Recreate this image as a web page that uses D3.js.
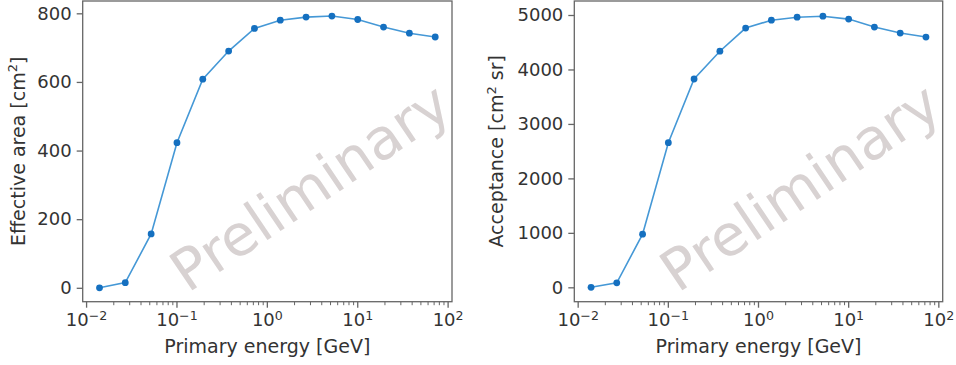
<!DOCTYPE html>
<html>
<head>
<meta charset="utf-8">
<script src="https://cdn.jsdelivr.net/npm/d3@7"></script>
<style>
  html, body { margin: 0; padding: 0; background: #fff; }
  svg { display: block; font-family: "DejaVu Sans", sans-serif; }
</style>
</head>
<body>
<svg id="chart" width="956" height="365"></svg>
<script>
// primary energy bins [GeV]
const energies = [0.0139, 0.0268, 0.0518, 0.1, 0.193, 0.373, 0.72, 1.39, 2.68, 5.18, 10, 19.3, 37.3, 72.0];
// effective area [cm^2]
const effectiveArea = [0, 15, 157, 423, 608, 690, 756, 780, 789, 792, 782, 760, 742, 731];
// acceptance [cm^2 sr]
const acceptance = [0, 82, 975, 2655, 3825, 4335, 4760, 4905, 4960, 4978, 4925, 4778, 4668, 4595];
const xTickExponents = [-2, -1, 0, 1, 2];
const areaTicks = [0, 200, 400, 600, 800];
const acceptanceTicks = [0, 1000, 2000, 3000, 4000, 5000];

const svg = d3.select('#chart');
const textColor = '#333';
const frameColor = '#666';
const lineColor = '#4598d6';
const markerColor = '#1570c0';
const tickFont = 18;
const labelFont = 19;

function drawPanel(opts) {
  const { left, right, top, bottom, yDomain, yTicks, values, label, watermark } = opts;

  const x = d3.scaleLog()
    .domain([Math.pow(10, -2.043), Math.pow(10, 2.043)])
    .range([left, right]);
  const y = d3.scaleLinear().domain(yDomain).range([bottom, top]);

  const g = svg.append('g');

  // watermark
  g.append('text')
    .attr('x', watermark[0])
    .attr('y', watermark[1])
    .attr('text-anchor', 'middle')
    .attr('dominant-baseline', 'central')
    .attr('transform', `rotate(-34, ${watermark[0]}, ${watermark[1]})`)
    .attr('font-size', 57)
    .attr('fill', '#d8d2d2')
    .text('Preliminary');

  // y axis
  const yAxis = g.append('g')
    .attr('transform', `translate(${left},0)`)
    .call(d3.axisLeft(y).tickValues(yTicks).tickSize(6).tickPadding(5).tickFormat(d3.format('d')));
  yAxis.select('.domain').remove();
  yAxis.selectAll('line').attr('stroke', frameColor).attr('stroke-width', 1.3);
  yAxis.selectAll('text').attr('fill', textColor).attr('font-size', tickFont)
    .attr('font-family', '"DejaVu Sans", sans-serif');

  // x axis: major + minor ticks on log scale
  const [d0, d1] = x.domain();
  const minor = [];
  for (let e = -3; e <= 2; e++) {
    for (let m = 2; m <= 9; m++) {
      const v = m * Math.pow(10, e);
      if (v >= d0 && v <= d1) minor.push(v);
    }
  }
  const xAxis = g.append('g').attr('transform', `translate(0,${bottom})`);
  xAxis.selectAll('line.minor').data(minor).enter().append('line')
    .attr('x1', (d) => x(d)).attr('x2', (d) => x(d))
    .attr('y1', 0).attr('y2', 3.5)
    .attr('stroke', frameColor).attr('stroke-width', 1);
  const major = xAxis.selectAll('g.major').data(xTickExponents).enter().append('g')
    .attr('transform', (d) => `translate(${x(Math.pow(10, d))},0)`);
  major.append('line').attr('y1', 0).attr('y2', 6)
    .attr('stroke', frameColor).attr('stroke-width', 1.3);
  const lbl = major.append('text')
    .attr('y', 326)
    .attr('transform', `translate(0,${-bottom})`)
    .attr('text-anchor', 'middle')
    .attr('fill', textColor)
    .attr('font-size', tickFont);
  lbl.append('tspan').text('10');
  lbl.append('tspan').attr('font-size', 12.6).attr('dy', -6)
    .text((d) => (d < 0 ? '\u2212' + Math.abs(d) : String(d)));

  // frame
  g.append('rect')
    .attr('x', left).attr('y', top)
    .attr('width', right - left).attr('height', bottom - top)
    .attr('fill', 'none').attr('stroke', frameColor).attr('stroke-width', 1.3);

  // series
  const pts = energies.map((e, i) => [e, values[i]]);
  g.append('path')
    .datum(pts)
    .attr('fill', 'none')
    .attr('stroke', lineColor)
    .attr('stroke-width', 1.6)
    .attr('d', d3.line().x((d) => x(d[0])).y((d) => y(d[1])));
  g.selectAll('circle').data(pts).enter().append('circle')
    .attr('cx', (d) => x(d[0])).attr('cy', (d) => y(d[1]))
    .attr('r', 3.4).attr('fill', markerColor);

  // x label
  g.append('text')
    .attr('x', (left + right) / 2).attr('y', 352.5)
    .attr('text-anchor', 'middle')
    .attr('fill', textColor).attr('font-size', labelFont)
    .text('Primary energy [GeV]');

  // y label
  const cy = (top + bottom) / 2;
  const yl = g.append('text')
    .attr('transform', `translate(${label.x},${cy}) rotate(-90)`)
    .attr('text-anchor', 'middle')
    .attr('fill', textColor).attr('font-size', labelFont);
  yl.append('tspan').text(label.pre);
  yl.append('tspan').attr('font-size', 13).attr('dy', -7.5).text('2');
  yl.append('tspan').attr('dy', 7.5).text(label.post);
}

drawPanel({
  left: 82.7, right: 452, top: 1, bottom: 301.7,
  yDomain: [-40.5, 835.9], yTicks: areaTicks, values: effectiveArea,
  label: { x: 24.5, pre: 'Effective area [cm', post: ']' },
  watermark: [310, 187],
});

drawPanel({
  left: 574.3, right: 942.7, top: 1, bottom: 301.7,
  yDomain: [-264, 5257], yTicks: acceptanceTicks, values: acceptance,
  label: { x: 503, pre: 'Acceptance [cm', post: ' sr]' },
  watermark: [800, 187],
});
</script>
</body>
</html>
